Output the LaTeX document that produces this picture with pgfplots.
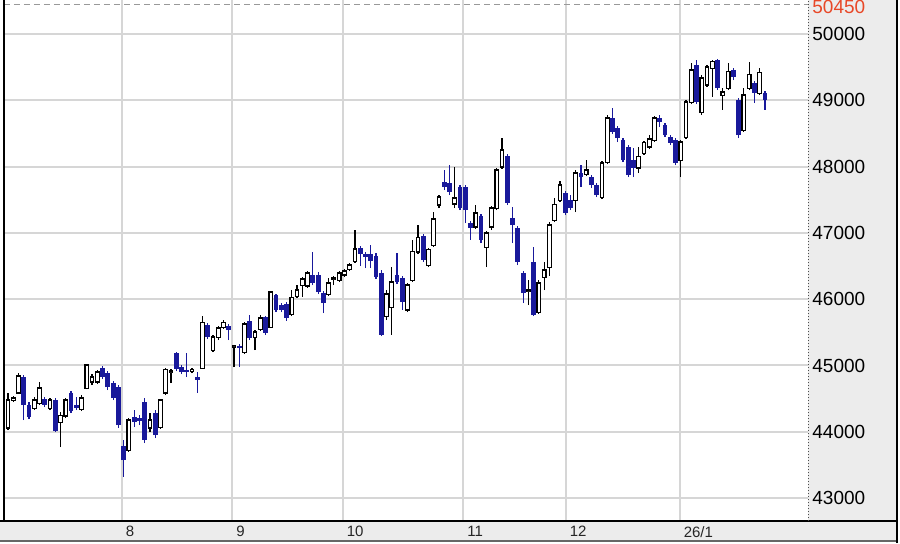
\documentclass[border=0pt]{standalone}
\usepackage{pgfplots}
\usepackage{pgfplotstable}
\pgfplotsset{compat=1.18}
\usepackage{fontspec}
\setmainfont{Liberation Sans}
\definecolor{navy}{RGB}{25,25,155}
\definecolor{gridgray}{RGB}{214,214,214}
\definecolor{panel}{RGB}{236,236,236}
\definecolor{lblred}{RGB}{232,72,40}

\pgfplotstableread{
i O H L C
0 44057 44585 44026 44479
1 44479 44539 44449 44509
2 44585 44886 44570 44841
5 44358 44524 44328 44479
6 44434 44751 44404 44660
8 44358 44509 44328 44479
10 44147 44298 43770 44238
11 44238 44509 44207 44479
14 44343 44554 44313 44509
15 44660 45022 44645 45007
16 44751 44871 44705 44826
17 44751 44932 44720 44901
23 43725 44207 43695 44177
27 44057 44283 43996 44177
29 44072 44494 44042 44479
30 44585 44962 44554 44932
31 44901 44947 44735 44916
35 44916 44962 44886 44932
37 44962 45746 44947 45641
39 45233 45460 45203 45429
40 45429 45595 45384 45565
41 45580 45686 45550 45641
43 45279 45309 44977 45294
45 45203 45656 45173 45625
47 45429 45535 45233 45505
48 45550 45761 45520 45716
50 45580 46123 45565 46108
54 45776 46138 45746 46018
55 46048 46214 46018 46138
56 46214 46334 46033 46304
57 46199 46425 46169 46395
61 46078 46319 46048 46244
62 46304 46350 46214 46319
63 46289 46425 46259 46395
64 46365 46455 46334 46425
65 46455 46546 46425 46515
66 46576 47043 46546 46757
72 45746 46138 45686 46078
73 45882 46485 45460 46259
76 45837 46244 45806 46214
77 46289 46893 46259 46712
78 46712 47119 46681 46923
80 46515 46772 46485 46742
81 46817 47315 46787 47209
82 47421 47571 47375 47541
85 47436 47994 47375 47526
89 47089 47421 47059 47300
91 46787 47028 46485 46998
92 47089 47405 47043 47375
93 47375 47979 47345 47948
94 47994 48431 47964 48250
99 46123 46289 45912 46138
101 45806 46289 45776 46244
102 46334 46561 46138 46440
103 46485 47164 46350 47119
104 47194 47526 47164 47421
105 47496 47783 47466 47722
108 47496 47948 47315 47903
110 47888 48099 47858 47948
113 47541 48084 47511 48054
114 48069 48778 48039 48733
120 47979 48296 47903 48145
121 48205 48386 48175 48356
122 48296 48476 48265 48416
123 48401 48763 48371 48733
128 48099 48401 47843 48371
129 48446 49004 48416 48974
130 48974 49563 48944 49457
132 48823 49382 48778 49336
133 49231 49532 49201 49502
134 49487 49608 49050 49578
136 49080 49185 48854 49125
137 49185 49563 49155 49427
140 48552 49185 48522 49080
141 49185 49578 49155 49382
143 49110 49487 49080 49412
}\up

\pgfplotstableread{
i O H L C
3 44826 44856 44177 44404
4 44404 44449 44192 44223
7 44494 44524 44373 44404
9 44479 44509 43996 44011
12 44585 44615 44283 44313
13 44404 44524 44328 44358
18 44962 44992 44796 44826
19 44886 44916 44630 44675
20 44735 44766 44479 44509
21 44675 44705 44057 44102
22 43785 43876 43318 43574
24 44223 44328 44072 44147
25 44207 44253 44102 44162
26 44449 44509 43830 43876
28 44283 44328 43906 43951
32 45188 45203 44916 44947
33 44977 45007 44871 44901
34 44932 45188 44826 44901
36 44826 44901 44585 44781
38 45610 45641 45399 45429
42 45595 45625 45384 45535
44 45294 45324 44977 45263
46 45671 45761 45384 45414
49 45731 45746 45460 45490
51 46063 46078 45806 45837
52 45912 45942 45806 45837
53 45927 45957 45671 45716
58 46365 46712 46214 46244
59 46365 46410 46078 46108
60 46093 46123 45791 45942
67 46772 46802 46500 46681
68 46681 46712 46470 46636
69 46681 46817 46470 46576
70 46651 46696 46304 46334
71 46395 46440 45444 45460
74 46365 46696 46229 46259
75 46319 46350 45837 45957
79 46953 46983 46561 46591
83 47768 47948 47647 47692
84 47752 48024 47571 47617
86 47692 47722 47345 47375
87 47692 47722 47149 47345
88 47149 47179 46893 47074
90 47255 47285 46847 46893
95 48160 48190 47421 47451
96 47224 47390 46847 47119
97 47074 47104 46515 46561
98 46395 46425 45942 46093
100 46561 46787 45746 45761
106 47602 47632 47270 47300
107 47496 47571 47345 47375
109 47903 48024 47692 47843
111 47843 47873 47677 47722
112 47722 47752 47541 47571
115 48733 48884 48492 48522
116 48582 48612 48371 48431
117 48401 48431 48069 48099
118 48296 48326 47843 47873
119 48099 48280 47843 47979
124 48733 48778 48597 48673
125 48627 48658 48446 48476
126 48446 48476 48326 48356
127 48401 48431 48024 48054
131 49532 49608 48944 48974
135 49608 49623 49155 49185
138 49457 49487 49306 49351
139 49004 49035 48431 48476
142 49261 49291 48959 49110
144 49110 49140 48854 49004
}\down

\begin{document}
\begin{tikzpicture}
\useasboundingbox (0,0) rectangle (450pt,271.5pt);
\fill[white] (0,0) rectangle (450pt,271.5pt);
\fill[panel] (404pt,11pt) rectangle (448.5pt,271.5pt);
\fill[panel] (0,1pt) rectangle (448.5pt,11pt);
\begin{axis}[
  at={(2pt,11pt)}, anchor=south west,
  scale only axis, width=402pt, height=260.5pt,
  xmin=-0.76, xmax=152.2, ymin=42654, ymax=50513,
  axis line style={draw=none},
  major tick length=0pt,
  /pgf/number format/assume math mode=true,
  ytick={43000,44000,45000,46000,47000,48000,49000,50000},
  yticklabels={43000,44000,45000,46000,47000,48000,49000,50000},
  ytick pos=right, yticklabel pos=right,
  yticklabel style={anchor=west, inner sep=0pt, xshift=2pt, font=\fontsize{9.5}{10}\selectfont, text=black},
  xtick={21.69,42.7,63.72,86.65,106.14,127.83},
  xticklabels={8,9,10,11,12,26/1},
  xtick pos=bottom,
  xticklabel style={anchor=north west, inner sep=0pt, xshift=1.75pt, yshift=-2.5pt, font=\fontsize{7.5}{8}\selectfont, text=black!85},
  grid=major, major grid style={draw=gridgray, line width=1pt},
  extra y ticks={50450}, extra y tick labels={50450},
  extra y tick style={grid=major, major grid style={draw=gray!80, densely dashed, line width=0.5pt}, yticklabel style={text=lblred, yshift=-1.6pt}},
]
% up candles: wicks
\addplot[draw=none, mark=none, forget plot, error bars/.cd, y dir=plus, y explicit, error mark=none,
  error bar style={draw=black, line width=0.6pt}]
  table[x=i, y=L, y error plus expr=\thisrow{H}-\thisrow{L}] {\up};
% down candles: wicks
\addplot[draw=none, mark=none, forget plot, error bars/.cd, y dir=plus, y explicit, error mark=none,
  error bar style={draw=navy, line width=0.6pt}]
  table[x=i, y=L, y error plus expr=\thisrow{H}-\thisrow{L}] {\down};
% up bodies outer
\addplot[draw=none, mark=none, forget plot, error bars/.cd, y dir=plus, y explicit, error mark=none,
  error bar style={draw=black, line width=2.4pt, shorten <=-0.3pt, shorten >=-0.3pt}]
  table[x=i, y=O, y error plus expr=\thisrow{C}-\thisrow{O}] {\up};
% up bodies inner
\addplot[draw=none, mark=none, forget plot, error bars/.cd, y dir=plus, y explicit, error mark=none,
  error bar style={draw=white, line width=1.3pt, shorten <=0.25pt, shorten >=0.25pt}]
  table[x=i, y=O, y error plus expr=\thisrow{C}-\thisrow{O}] {\up};
% down bodies
\addplot[draw=none, mark=none, forget plot, error bars/.cd, y dir=plus, y explicit, error mark=none,
  error bar style={draw=navy, line width=2.4pt}]
  table[x=i, y=C, y error plus expr=\thisrow{O}-\thisrow{C}] {\down};
\end{axis}
\draw[black, line width=0.8pt] (2pt,11pt) -- (2pt,271.5pt);
\draw[black, line width=1pt] (0,11pt) -- (448.5pt,11pt);
\draw[black!60, line width=0.6pt] (0,1pt) -- (448.5pt,1pt);
\draw[black!70, line width=0.5pt, densely dotted] (404pt,11pt) -- (404pt,271.5pt);
\draw[black, line width=0.8pt] (448.5pt,0) -- (448.5pt,271.5pt);
\end{tikzpicture}
\end{document}
